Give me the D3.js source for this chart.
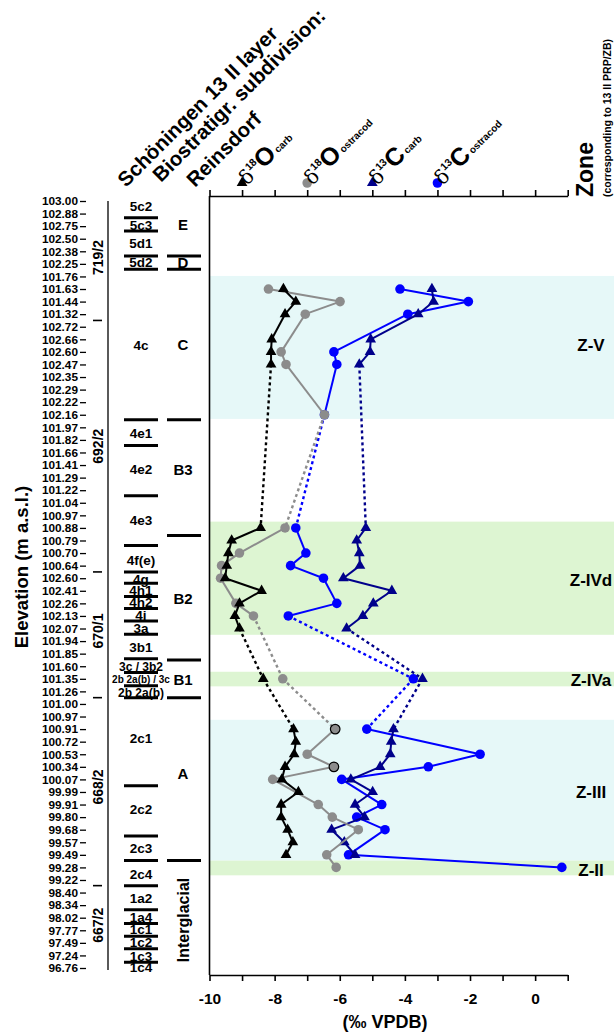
<!DOCTYPE html>
<html>
<head>
<meta charset="utf-8">
<script src="https://cdn.jsdelivr.net/npm/d3@7"></script>
<style>
  body { margin: 0; background: #fff; }
  svg { font-family: "Liberation Sans", Arial, sans-serif; font-weight: bold; }
</style>
</head>
<body>
<svg id="chart" width="614" height="1036"></svg>
<script>
// sample elevations (m a.s.l.), top to bottom, one per row
const elevLabels = ["103.00","102.88","102.75","102.50","102.38","102.25","101.76","101.63","101.44","101.32",
  "102.72","102.66","102.60","102.47","102.35","102.29","102.22","102.16","101.97","101.82",
  "101.66","101.41","101.29","101.22","101.04","100.97","100.88","100.79","100.70","100.64",
  "102.60","102.41","102.26","102.13","102.07","101.94","101.85","101.60","101.35","101.26",
  "101.00","100.97","100.91","100.72","100.53","100.34","100.07","99.99","99.91","99.80",
  "99.68","99.57","99.49","99.28","99.22","98.40","98.34","98.02","97.77","97.49","97.24","96.76"];

const xTicks = [-10, -9, -8, -7, -6, -5, -4, -3, -2, -1, 0, 1];

// [row, value]  row = index in elevLabels
const d18Ocarb = [[7,-7.73],[8,-7.35],[9,-7.68],[11,-8.09],[12,-8.11],[13,-8.11],
  [26,-8.43],[27,-9.32],[28,-9.42],[29,-9.47],[30,-9.52],[31,-8.4],[32,-9.08],[33,-9.22],[34,-9.08],
  [38,-8.35],
  [42,-7.42],[43,-7.35],[44,-7.4],[45,-7.68],[46,-7.78],[47,-7.27],[48,-7.8],[49,-7.8],[50,-7.6],[51,-7.44],[52,-7.65]];
const d18Oostr = [[7,-8.19],[8,-5.99],[9,-7.06],[12,-7.8],[13,-7.65],[17,-6.47],
  [26,-7.68],[28,-9.08],[29,-9.63],[30,-9.66],[32,-9.19],[33,-8.65],
  [38,-7.75],
  [42,-6.14],[44,-7.0],[45,-6.18],[46,-8.06],[48,-6.66],[49,-6.23],[50,-5.43],[52,-6.4],[53,-6.11]];
const d13Ccarb = [[7,-3.17],[8,-3.12],[9,-3.59],[11,-5.05],[12,-5.07],[13,-5.4],
  [26,-5.2],[27,-5.48],[28,-5.4],[29,-5.38],[30,-5.89],[31,-4.4],[32,-4.97],[33,-5.29],[34,-5.79],
  [38,-3.46],
  [42,-4.35],[43,-4.42],[44,-4.45],[45,-4.76],[46,-5.66],[47,-4.99],[48,-5.53],[49,-5.24],[50,-6.25],[51,-5.86],[52,-5.53]];
const d13Costr = [[7,-4.15],[8,-2.05],[9,-3.91],[12,-6.18],[13,-6.09],[17,-6.47],
  [26,-7.35],[28,-7.04],[29,-7.51],[30,-6.5],[32,-6.09],[33,-7.58],
  [38,-3.74],
  [42,-5.17],[44,-1.69],[45,-3.28],[46,-5.94],[48,-4.71],[49,-5.48],[50,-4.61],[52,-5.73],[53,0.82]];
const outlinedOstr = [42, 45];   // grey points with black rim

// sampling gaps: lines crossing these rows are dashed
const gapRows = [20, 36, 40];

// zones: [name, fromRow, toRow, labelRow, kind]
const zones = [["Z-V",5.96,17.33,11.45,"c"],["Z-IVd",25.5,34.5,30.1,"g"],["Z-IVa",37.44,38.6,38.08,"g"],
  ["Z-III",41.26,52.46,46.96,"c"],["Z-II",52.46,53.63,53.2,"g"]];

// cores
const coreNames = ["719/2","692/2","670/1","668/2","667/2"];
const coreLabelRows = [4.5, 19.5, 34.2, 46.6, 57.6];
const coreBreaks = [9.5, 29.5, 39.5, 54.45];

// Schöningen 13 II layers
const layerNames = ["5c2","5c3","5d1","5d2","4c","4e1","4e2","4e3","4f(e)","4g","4h1","4h2","4i","3a","3b1",
  "3c / 3b2","2b 2a(b) / 3c","2b 2a(b)","2c1","2c2","2c3","2c4","1a2","1a4","1c1","1c2","1c3","1c4"];
const layerRows = [0.4,1.9,3.36,4.9,11.45,18.47,21.33,25.36,28.54,30.07,30.98,31.93,32.9,33.97,35.48,
  37.02,38.08,39.13,42.7,48.4,51.45,53.52,55.43,56.97,57.9,58.96,60.02,60.9];
const layerBreaks = [1.33,2.38,4.37,5.43,17.4,19.45,23.45,27.4,29.5,30.4,31.45,32.4,33.4,34.45,36.4,37.5,38.55,39.5,
  46.5,50.5,52.46,54.45,56.36,57.47,58.48,59.46,60.55];

// Reinsdorf biostratigraphy
const bioNames = ["E","D","C","B3","B2","B1","A"];
const bioRows = [1.9,4.9,11.45,21.4,31.6,38.08,45.5];
const bioBreaks = [4.37,5.43,17.4,26.6,36.5,39.5,52.46];

const svg = d3.select("#chart");
const x = d3.scaleLinear().domain([-10, 1]).range([209.5, 567.7]);
const y = d3.scaleLinear().domain([0, 61]).range([201, 968]);
const topY = 196, botY = 975;

// zone bands
svg.append("g").selectAll("rect").data(zones).join("rect")
  .attr("x", x(-10)).attr("width", 614 - x(-10))
  .attr("y", d => y(d[1])).attr("height", d => y(d[2]) - y(d[1]))
  .attr("fill", d => d[4] === "c" ? "#e6f8f8" : "#ddf5d2");

svg.append("g").selectAll("text").data(zones).join("text")
  .attr("x", 591).attr("y", d => y(d[3])).attr("dy", "0.36em")
  .attr("text-anchor", "middle").attr("font-size", 17).text(d => d[0]);

// axes
const gTop = svg.append("g").attr("transform", `translate(0,${topY})`)
  .call(d3.axisTop(x).tickValues(xTicks).tickSize(6).tickSizeOuter(0).tickFormat(""));
const gBot = svg.append("g").attr("transform", `translate(0,${botY})`)
  .call(d3.axisBottom(x).tickValues(xTicks).tickSize(6).tickSizeOuter(0).tickPadding(12)
    .tickFormat(d => d % 2 === 0 ? String(d) : ""));
gBot.selectAll("text").attr("font-size", 15.5).attr("font-family", null);
[gTop, gBot].forEach(g => g.selectAll("path,line").attr("stroke-width", 1.6));

svg.append("line").attr("x1", x(-10)).attr("x2", x(-10)).attr("y1", topY).attr("y2", botY)
  .attr("stroke", "#000").attr("stroke-width", 1.6);

svg.append("text").attr("x", 385).attr("y", 1028).attr("text-anchor", "middle")
  .attr("font-size", 18).text("(‰ VPDB)");

const gY = svg.append("g").attr("transform", "translate(86,0)")
  .call(d3.axisLeft(y).tickValues(d3.range(elevLabels.length)).tickFormat(i => elevLabels[i])
    .tickSize(6).tickPadding(2));
gY.select(".domain").remove();
gY.selectAll("text").attr("font-size", 11.8).attr("font-family", null);
gY.selectAll("line").attr("stroke-width", 1.3);

svg.append("text").attr("transform", "translate(28,567) rotate(-90)")
  .attr("text-anchor", "middle").attr("font-size", 18.5).text("Elevation (m a.s.l.)");

// core column
svg.append("line").attr("x1", 108).attr("x2", 108).attr("y1", y(0)).attr("y2", y(61) + 2)
  .attr("stroke", "#000").attr("stroke-width", 1.3);
svg.append("g").selectAll("line").data(coreBreaks).join("line")
  .attr("x1", 93).attr("x2", 102).attr("y1", d => y(d)).attr("y2", d => y(d))
  .attr("stroke", "#000").attr("stroke-width", 1.6);
svg.append("g").selectAll("text").data(coreNames).join("text")
  .attr("transform", (d, i) => `translate(98,${y(coreLabelRows[i])}) rotate(-90)`)
  .attr("text-anchor", "middle").attr("dy", "0.36em").attr("font-size", 14).text(d => d);

// layer column
svg.append("g").selectAll("text").data(layerNames).join("text")
  .attr("x", 141).attr("y", (d, i) => y(layerRows[i])).attr("dy", "0.36em")
  .attr("text-anchor", "middle")
  .attr("font-size", d => d.length > 9 ? 10 : d.length > 5 ? 12 : 13.5).text(d => d);
svg.append("g").selectAll("line").data(layerBreaks).join("line")
  .attr("x1", 124).attr("x2", 158).attr("y1", d => y(d)).attr("y2", d => y(d))
  .attr("stroke", "#000").attr("stroke-width", 3);

// biostrat column
svg.append("g").selectAll("text").data(bioNames).join("text")
  .attr("x", 183).attr("y", (d, i) => y(bioRows[i])).attr("dy", "0.36em")
  .attr("text-anchor", "middle").attr("font-size", 15).text(d => d);
svg.append("text").attr("transform", "translate(183,920) rotate(-90)")
  .attr("text-anchor", "middle").attr("dy", "0.36em").attr("font-size", 16).text("Interglacial");
svg.append("g").selectAll("line").data(bioBreaks).join("line")
  .attr("x1", 167).attr("x2", 201).attr("y1", d => y(d)).attr("y2", d => y(d))
  .attr("stroke", "#000").attr("stroke-width", 3);

// headers
const headers = [["Schöningen 13 II layer", 126, 188], ["Biostratigr. subdivision:", 161, 183], ["Reinsdorf", 195, 188]];
svg.append("g").selectAll("text").data(headers).join("text")
  .attr("transform", d => `translate(${d[1]},${d[2]}) rotate(-45)`)
  .attr("font-size", 20.5).text(d => d[0]);

svg.append("text").attr("transform", "translate(593,197) rotate(-90)").attr("font-size", 23).text("Zone");
svg.append("text").attr("transform", "translate(611,197) rotate(-90)").attr("font-size", 10.5)
  .text("(corresponding to 13 II PRP/ZB)");

// series
const triangle = d3.symbol(d3.symbolTriangle, 50)();
const circle = d3.symbol(d3.symbolCircle, 72)();
const series = [
  {data: d13Costr, color: "#0000ff", shape: circle, iso: "13", el: "C", sub: "ostracod", lx: -3},
  {data: d13Ccarb, color: "#00008b", shape: triangle, iso: "13", el: "C", sub: "carb", lx: -5},
  {data: d18Oostr, color: "#8c8c8c", shape: circle, iso: "18", el: "O", sub: "ostracod", lx: -7},
  {data: d18Ocarb, color: "#000000", shape: triangle, iso: "18", el: "O", sub: "carb", lx: -9}
];

const line = d3.line().x(d => x(d[1])).y(d => y(d[0]));
const isGap = d => gapRows.some(r => d[0][0] < r && r < d[1][0]);

series.forEach(s => {
  const g = svg.append("g");
  g.selectAll("path.seg").data(d3.pairs(s.data)).join("path").attr("class", "seg")
    .attr("d", line).attr("fill", "none").attr("stroke", s.color)
    .attr("stroke-width", d => isGap(d) ? 2.4 : 2)
    .attr("stroke-dasharray", d => isGap(d) ? "3,3" : null);
  g.selectAll("path.pt").data(s.data).join("path").attr("class", "pt")
    .attr("d", s.shape)
    .attr("transform", d => `translate(${x(d[1])},${y(d[0])})`)
    .attr("fill", s.color)
    .attr("stroke", d => s.data === d18Oostr && outlinedOstr.includes(d[0]) ? "#000" : "none")
    .attr("stroke-width", 1.2);

  // legend entry above the top axis
  svg.append("path").attr("d", s.shape).attr("transform", `translate(${x(s.lx)},183)`).attr("fill", s.color);
  const t = svg.append("text").attr("transform", `translate(${x(s.lx) + 5},186) rotate(-45)`);
  t.append("tspan").attr("font-family", "DejaVu Serif, serif").attr("font-weight", "normal")
    .attr("font-size", 20).text("δ");
  t.append("tspan").attr("font-size", 10.5).attr("dy", -9).text(s.iso);
  t.append("tspan").attr("font-size", 25).attr("dy", 9).text(s.el);
  t.append("tspan").attr("font-size", 10).attr("dx", 2).attr("dy", -1).text(s.sub);
});
</script>
</body>
</html>
